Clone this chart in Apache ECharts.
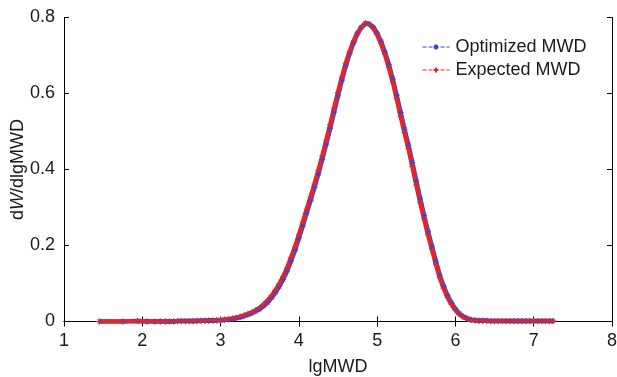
<!DOCTYPE html>
<html>
<head>
<meta charset="utf-8">
<script src="https://cdn.jsdelivr.net/npm/echarts@6/dist/echarts.min.js"></script>
<style>
html,body{margin:0;padding:0;background:#fff;}
#c{width:617px;height:377px;}
</style>
</head>
<body>
<div id="c"></div>
<script>
// ---- data ----
var lgMWD = [1.45,1.75,1.94,2.06,2.16,2.23,2.3,2.35,2.4,2.45,2.5,2.55,2.6,2.65,2.7,2.75,2.8,2.85,2.9,2.95,
  3.0,3.05,3.1,3.15,3.2,3.25,3.3,3.35,3.4,3.45,3.5,3.55,3.6,3.65,3.7,3.75,3.8,3.85,3.9,3.95,
  4.0,4.05,4.1,4.15,4.2,4.25,4.3,4.35,4.4,4.45,4.5,4.55,4.6,4.65,4.7,4.75,4.8,4.85,4.9,4.95,
  5.0,5.05,5.1,5.15,5.2,5.25,5.3,5.35,5.4,5.45,5.5,5.55,5.6,5.65,5.7,5.75,5.8,5.85,5.9,5.95,
  6.0,6.05,6.1,6.15,6.2,6.25,6.3,6.35,6.4,6.45,6.5,6.55,6.6,6.65,6.7,6.75,6.8,6.85,6.9,6.95,
  7.0,7.05,7.1,7.15,7.2,7.25];
var expectedMWD = [0,0,0.001,0,0,0,0,0,0,0.001,0.001,0.001,0.001,0.001,0.002,0.002,0.002,0.003,0.003,0.003,
  0.004,0.005,0.006,0.008,0.010,0.013,0.016,0.020,0.024,0.030,0.036,0.045,0.055,0.067,0.082,0.099,0.118,0.141,0.168,0.196,
  0.228,0.261,0.295,0.328,0.362,0.398,0.436,0.477,0.518,0.561,0.603,0.643,0.680,0.711,0.738,0.760,0.775,0.785,0.782,0.772,
  0.755,0.731,0.703,0.668,0.630,0.586,0.540,0.497,0.455,0.408,0.360,0.313,0.270,0.228,0.190,0.151,0.115,0.087,0.063,0.045,
  0.030,0.019,0.012,0.007,0.004,0.003,0.002,0.002,0.002,0.001,0.001,0.001,0.001,0.001,0.001,0.001,0.001,0.001,0.001,0.001,
  0.001,0.001,0.001,0.001,0.001,0.001];
var optimizedMWD = [0,0,0.001,0,0,0,0,0,0,0.001,0.001,0.001,0.001,0.001,0.001,0.002,0.002,0.002,0.002,0.003,
  0.003,0.004,0.005,0.007,0.009,0.011,0.014,0.018,0.022,0.027,0.033,0.041,0.050,0.062,0.076,0.092,0.111,0.133,0.159,0.187,
  0.219,0.252,0.286,0.319,0.353,0.389,0.427,0.467,0.508,0.551,0.594,0.635,0.673,0.706,0.734,0.758,0.774,0.784,0.783,0.775,
  0.759,0.737,0.709,0.676,0.638,0.595,0.550,0.506,0.464,0.418,0.370,0.323,0.279,0.237,0.198,0.159,0.122,0.093,0.068,0.049,
  0.033,0.021,0.013,0.008,0.005,0.003,0.002,0.002,0.002,0.001,0.001,0.001,0.001,0.001,0.001,0.001,0.001,0.001,0.001,0.001,
  0.001,0.001,0.001,0.001,0.001,0.001];
var seriesNames = ['Optimized MWD','Expected MWD'];
var xTicks = [1,8,1];
var yTicks = [0,0.8,0.2];

function pairs(xs, ys){ var o=[]; for(var i=0;i<xs.length;i++) o.push([xs[i],ys[i]]); return o; }

var FONT = 'Liberation Sans, Arial, sans-serif';
var TXT = '#1a1a1a';
var RED = '#e3262b', BLUE = '#3b48c6';
var plusPath = 'path://M0,5L10,5M5,0L5,10';
var starPath = 'path://M0,5L10,5M5,0L5,10M1.5,1.5L8.5,8.5M1.5,8.5L8.5,1.5';

var axisCommon = {
  axisLine:{show:true,lineStyle:{color:'#000',width:1}},
  axisTick:{show:true,inside:true,length:5,lineStyle:{color:'#000'}},
  splitLine:{show:false}
};

var chart = echarts.init(document.getElementById('c'), null, {renderer:'canvas'});
chart.setOption({
  animation:false,
  backgroundColor:'#fff',
  grid:{left:64,right:5,top:17.5,bottom:55.5,containLabel:false,outerBoundsMode:'none'},
  legend:{
    orient:'vertical', left:417, top:33, itemGap:5, itemWidth:27, itemHeight:6,
    textStyle:{fontFamily:FONT,fontSize:18,color:TXT,padding:[0,0,0,1]},
    lineStyle:{width:1,type:'dashed'},
    data:seriesNames
  },
  xAxis:[
    Object.assign({type:'value',min:xTicks[0],max:xTicks[1],interval:xTicks[2],position:'bottom',
      name:'lgMWD',nameLocation:'middle',nameGap:37,nameMoveOverlap:false,
      nameTextStyle:{fontFamily:FONT,fontSize:18,color:TXT},
      axisLabel:{fontFamily:FONT,fontSize:18,color:TXT,margin:11}},axisCommon),
    Object.assign({type:'value',min:xTicks[0],max:xTicks[1],interval:xTicks[2],position:'top',
      axisLabel:{show:false}},axisCommon)
  ],
  yAxis:[
    Object.assign({type:'value',min:yTicks[0],max:yTicks[1],interval:yTicks[2],position:'left',
      name:'{a|d}{i|W}{a|/dlgMWD}',nameLocation:'middle',nameGap:37,nameMoveOverlap:false,
      nameTextStyle:{fontFamily:FONT,fontSize:18,color:TXT,
        rich:{a:{fontFamily:FONT,fontSize:18,color:TXT},i:{fontFamily:FONT,fontSize:18,color:TXT,fontStyle:'italic'}}},
      axisLabel:{fontFamily:FONT,fontSize:18,color:TXT,margin:9}},axisCommon),
    Object.assign({type:'value',min:yTicks[0],max:yTicks[1],interval:yTicks[2],position:'right',
      axisLabel:{show:false}},axisCommon)
  ],
  series:[
    {name:seriesNames[0],type:'line',xAxisIndex:0,yAxisIndex:0,data:pairs(lgMWD,optimizedMWD),
     symbol:starPath,symbolSize:6,showAllSymbol:true,
     itemStyle:{color:BLUE,borderColor:BLUE,borderWidth:1},
     lineStyle:{color:BLUE,width:4.5}},
    {name:seriesNames[1],type:'line',xAxisIndex:0,yAxisIndex:0,data:pairs(lgMWD,expectedMWD),
     symbol:plusPath,symbolSize:6,showAllSymbol:true,
     itemStyle:{color:RED,borderColor:RED,borderWidth:1},
     lineStyle:{color:RED,width:4.5}}
  ]
});
</script>
</body>
</html>
